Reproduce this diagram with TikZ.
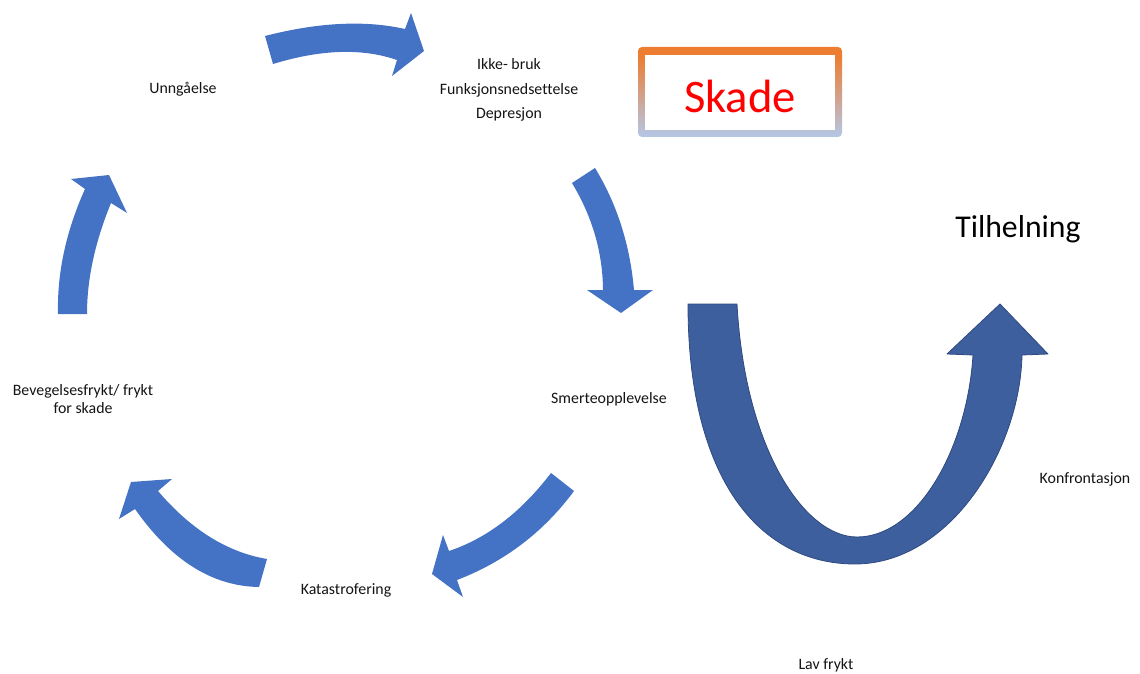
\documentclass[tikz,border=0pt]{standalone}
\usepackage{fontspec}
\setmainfont[Ligatures=NoCommon]{Carlito}
\definecolor{cycblue}{RGB}{68,114,196}
\definecolor{ufill}{RGB}{62,95,158}
\definecolor{uedge}{RGB}{47,74,128}
\definecolor{skorange}{RGB}{237,125,49}
\definecolor{skblue}{RGB}{180,199,231}
\definecolor{txt}{RGB}{20,20,20}
\pgfdeclareverticalshading{skadeborder}{100bp}{color(0bp)=(skblue); color(25bp)=(skblue); color(70bp)=(skorange); color(100bp)=(skorange)}
\begin{document}
\begin{tikzpicture}[x=0.75pt,y=-0.75pt,
  cyc/.style={fill=cycblue,draw=none},
  uarrow/.style={fill=ufill,draw=uedge,line width=0.6pt,line join=round},
  lbl/.style={font=\fontsize{11.9}{14}\selectfont,text=txt,inner sep=0pt,align=center},
  big/.style={inner sep=0pt}]
\useasboundingbox (0,0) rectangle (1140,674);
% top arrow
\fill[cyc] (265,36) .. controls (318.3,22.3) and (365,20) .. (405,29) -- (411,13) -- (424,51) -- (392,76) -- (397,60)
  .. controls (362.3,48) and (321,49.3) .. (273,64) -- cycle;
% right arrow (down)
\fill[cyc] (595,168) .. controls (617,204) and (630,244.7) .. (634,290) -- (653,290) -- (621,313) -- (587,290) -- (603,290)
  .. controls (602.7,252.3) and (592.3,216.7) .. (572,183) -- cycle;
% bottom-right arrow (down-left)
\fill[cyc] (551,473) .. controls (521,512.3) and (487,538.3) .. (449,551) -- (443,535) -- (432,574) -- (463,597) -- (457,580)
  .. controls (504.7,561.7) and (543.7,532) .. (574,491) -- cycle;
% bottom-left arrow (up-left)
\fill[cyc] (267,559) .. controls (227.3,552.3) and (191,529.7) .. (158,491) -- (172,479) -- (131,482) -- (119,519) -- (135,509)
  .. controls (171,560.3) and (212.3,586.3) .. (259,587) -- cycle;
% left arrow (up)
\fill[cyc] (58,314) .. controls (57,273) and (66,231.3) .. (85,189) -- (71,179) -- (109,175) -- (127,213) -- (111,203)
  .. controls (95,242) and (87,279) .. (87,314) -- cycle;
% U arrow
\filldraw[uarrow] (688,304) .. controls (688,480) and (760,564) .. (855,564)
  .. controls (950,564) and (1020,450) .. (1022,355) -- (1048,354) -- (1000,304) -- (947,354) -- (973,355)
  .. controls (967,450) and (917,537) .. (857,537)
  .. controls (805,537) and (745,450) .. (737,304) -- cycle;
% Skade box
\shade[shading=skadeborder,rounded corners=3pt] (638,47) rectangle (842,137);
\fill[white] (645,55) rectangle (835,130);
\node[big,text=red,font=\fontsize{35}{40}\selectfont] (skade) at (740,96) {Skade};
% labels
\node[lbl] (unng) at (183,89) {Unngåelse};
\node[lbl,font=\fontsize{11.9}{18.4}\selectfont] (ikke) at (509,90) {Ikke- bruk\\Funksjonsnedsettelse\\Depresjon};
\node[big,text=black,font=\fontsize{23.8}{28}\selectfont] (tilh) at (1018,229) {Tilhelning};
\node[lbl] (smerte) at (609,399) {Smerteopplevelse};
\node[lbl,font=\fontsize{11.9}{13.5}\selectfont] (beveg) at (83,399) {Bevegelsesfrykt/ frykt\\for skade};
\node[lbl] (kata) at (346,590) {Katastrofering};
\node[lbl] (konf) at (1085,479) {Konfrontasjon};
\node[lbl] (lav) at (826,665) {Lav frykt};
\end{tikzpicture}
\end{document}
